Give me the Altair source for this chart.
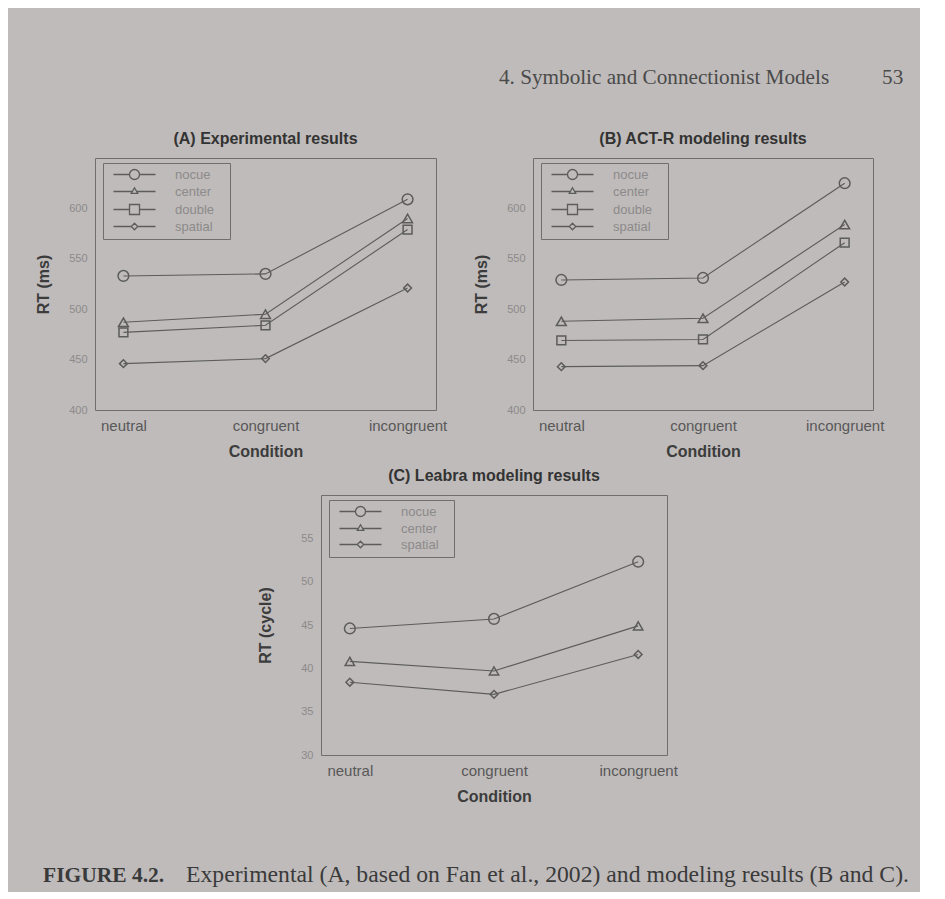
import altair as alt
import pandas as pd

# ---------------- data ----------------
conditions = ["neutral", "congruent", "incongruent"]
series4 = ["nocue", "center", "double", "spatial"]
series3 = ["nocue", "center", "spatial"]

# (A) Experimental results, RT (ms)
a_nocue = [533, 535, 609]
a_center = [487, 495, 590]
a_double = [477, 484, 579]
a_spatial = [446, 451, 521]

# (B) ACT-R modeling results, RT (ms)
b_nocue = [529, 531, 625]
b_center = [488, 491, 584]
b_double = [469, 470, 566]
b_spatial = [443, 444, 527]

# (C) Leabra modeling results, RT (cycle)
c_nocue = [44.6, 45.7, 52.3]
c_center = [40.8, 39.7, 44.9]
c_spatial = [38.4, 37.0, 41.6]

ms_ticks = [400, 450, 500, 550, 600]
cycle_ticks = [30, 35, 40, 45, 50, 55]
ms_domain = [400, 650]
cycle_domain = [30, 60]

title_a = "(A) Experimental results"
title_b = "(B) ACT-R modeling results"
title_c = "(C) Leabra modeling results"
ytitle_ms = "RT (ms)"
ytitle_cycle = "RT (cycle)"
xtitle = "Condition"
header_text = "4. Symbolic and Connectionist Models" + "\u00a0" * 10 + "53"
fig_label = "FIGURE 4.2."
caption_text = "Experimental (A, based on Fan et al., 2002) and modeling results (B and C)."

# ---------------- styles ----------------
BG = "#bfbbba"
LINE = "#5c5c5c"
BORDER = "#6e6e6e"
SANS = "Liberation Sans"
SERIF = "Liberation Serif"

SHAPES = {"nocue": "circle", "center": "triangle-up", "double": "square", "spatial": "diamond"}
SIZES = {"nocue": 115, "center": 60, "double": 85, "spatial": 50}
GLYPHS = {
    "nocue": "M-4.2,0L-1,0M1,0L4.2,0M1,0A1,1 0 1 1 -1,0A1,1 0 1 1 1,0Z",
    "center": "M-4.2,0L-0.45,0M0.45,0L4.2,0M0,-0.75L0.65,0.38L-0.65,0.38Z",
    "double": "M-4.2,0L-1,0M1,0L4.2,0M-1,-1L1,-1L1,1L-1,1Z",
    "spatial": "M-4.2,0L-0.65,0M0.65,0L4.2,0M0,-0.65L0.65,0L0,0.65L-0.65,0Z",
}
LABEL_FILL = "\u2800"

one = pd.DataFrame({"k": [0]})


def anchor(px, py):
    # invisible layout anchor (sets the extent of a cell, draws nothing)
    return alt.Chart(one).mark_point(opacity=0, size=1).encode(
        x=alt.value(px), y=alt.value(py)
    )


def make_df(series, values):
    rows = []
    for s, vals in zip(series, values):
        for c, v in zip(conditions, vals):
            rows.append({"condition": c, "series": s, "rt": v})
    return pd.DataFrame(rows)


def panel(df, series, title, ytitle, ydomain, yticks, w, h, ytitle_pad, anchors):
    base = alt.Chart(df)
    x = alt.X(
        "condition:N",
        sort=conditions,
        scale=alt.Scale(type="point", domain=conditions, padding=0.2),
        axis=alt.Axis(
            title=xtitle, labelAngle=0, ticks=False, domain=False, grid=False,
            labelFont=SANS, labelFontSize=15, labelColor="#585858", labelPadding=8,
            titleFont=SANS, titleFontSize=16, titleFontWeight="bold",
            titleColor="#3c3c3c", titlePadding=10,
        ),
    )
    y = alt.Y(
        "rt:Q",
        scale=alt.Scale(domain=ydomain, nice=False, zero=False),
        axis=alt.Axis(
            title=ytitle, values=yticks, ticks=False, domain=False, grid=False,
            labelFont=SANS, labelFontSize=11, labelColor="#8c8a8a", labelPadding=8,
            titleFont=SANS, titleFontSize=16, titleFontWeight="bold",
            titleColor="#3c3c3c", titlePadding=ytitle_pad,
        ),
    )
    lines = base.mark_line(color=LINE, strokeWidth=1.1).encode(
        x=x, y=y, detail="series:N"
    )
    pts = base.mark_point(filled=False, color=LINE, strokeWidth=1.5, opacity=1).encode(
        x=x,
        y=y,
        shape=alt.Shape(
            "series:N",
            scale=alt.Scale(domain=series, range=[SHAPES[s] for s in series]),
            legend=None,
        ),
        size=alt.Size(
            "series:N",
            scale=alt.Scale(domain=series, range=[SIZES[s] for s in series]),
            legend=None,
        ),
    )
    leg = base.transform_filter("false").mark_point(
        filled=False, color=LINE, strokeWidth=1.3, size=100, opacity=1
    ).encode(
        x=x,
        y=y,
        shape=alt.Shape(
            "series:N",
            scale=alt.Scale(domain=series, range=[GLYPHS[s] for s in series]),
            legend=alt.Legend(
                title=None, orient="none", legendX=8, legendY=5,
                padding=5, strokeColor=BORDER, cornerRadius=0,
                labelFont=SANS, labelFontSize=13, labelColor="#8c8a8a",
                labelExpr="datum.label + '" + LABEL_FILL + "'",
                symbolSize=100, symbolStrokeWidth=1.3, symbolStrokeColor=LINE,
                symbolFillColor="transparent", symbolOffset=20, labelOffset=34,
                rowPadding=2,
            ),
        ),
    )
    layers = [lines, pts, leg] + [anchor(px, py) for px, py in anchors]
    return (
        alt.layer(*layers)
        .resolve_scale(shape="independent", size="independent")
        .properties(
            width=w,
            height=h,
            title=alt.TitleParams(
                title, font=SANS, fontSize=16, fontWeight="bold",
                color="#333333", offset=11, anchor="middle",
            ),
            view=alt.ViewBackground(stroke=BORDER, strokeWidth=1),
        )
    )


df_a = make_df(series4, [a_nocue, a_center, a_double, a_spatial])
df_b = make_df(series4, [b_nocue, b_center, b_double, b_spatial])
df_c = make_df(series3, [c_nocue, c_center, c_spatial])

chart_a = panel(df_a, series4, title_a, ytitle_ms, ms_domain, ms_ticks, 341, 252, 17,
                [(-70, 0), (0, 308)])
chart_b = panel(df_b, series4, title_b, ytitle_ms, ms_domain, ms_ticks, 340, 252, 17,
                [(0, 308)])
chart_c = panel(df_c, series3, title_c, ytitle_cycle, cycle_domain, cycle_ticks, 346, 260, 27,
                [(0, 315)])

spacer = alt.Chart(one).mark_point(opacity=0, size=1).encode(
    x=alt.value(0), y=alt.value(0)
).properties(width=129, height=260)

cap_a = alt.Chart(one).mark_text(
    text=fig_label, font=SERIF, fontSize=21.5, fontWeight="bold",
    color="#3a3a3a", align="left", baseline="alphabetic",
).encode(x=alt.value(-52), y=alt.value(70))
cap_b = alt.Chart(one).mark_text(
    text=caption_text, font=SERIF, fontSize=23.7, color="#3a3a3a",
    align="left", baseline="alphabetic",
).encode(x=alt.value(91), y=alt.value(70))
caption = alt.layer(cap_a, cap_b, anchor(0, 0)).properties(width=129, height=75)

row1 = alt.hconcat(chart_a, chart_b, spacing=97, bounds="flush")
row2 = alt.hconcat(spacer, chart_c, spacing=97, bounds="flush")

chart = (
    alt.vconcat(row1, row2, caption, spacing=0)
    .resolve_scale(x="independent", y="independent", shape="independent", size="independent")
    .resolve_legend(shape="independent")
    .properties(
        title=alt.TitleParams(
            header_text, anchor="start", frame="group", dx=404, offset=42,
            font=SERIF, fontSize=21.2, fontWeight="normal", color="#4a4a4a",
        ),
        padding={"left": 16, "top": 58, "right": 10, "bottom": 4},
        background=BG,
    )
    .configure_view(stroke="transparent")
)

chart.save("out.html", embed_options={"renderer": "svg", "actions": False})
